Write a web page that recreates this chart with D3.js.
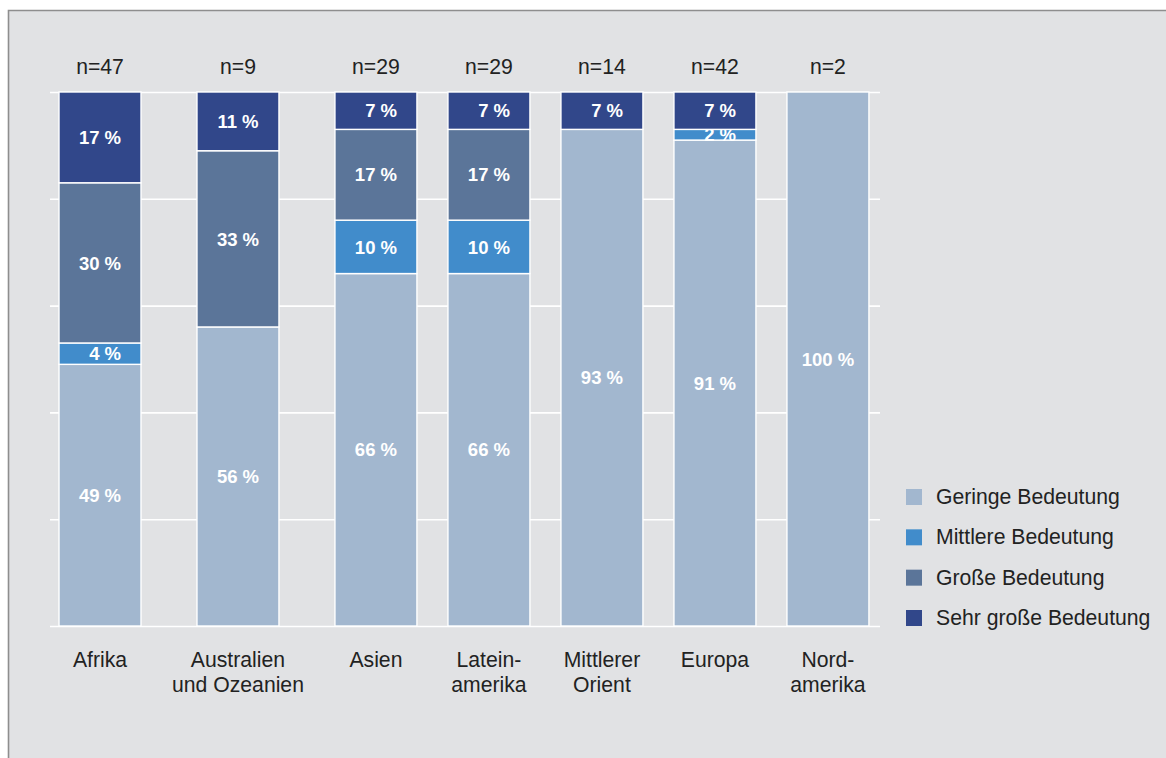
<!DOCTYPE html>
<html>
<head>
<meta charset="utf-8">
<script src="https://cdn.jsdelivr.net/npm/d3@7"></script>
<style>
  html, body { margin: 0; padding: 0; background: #ffffff; }
  svg { display: block; font-family: "Liberation Sans", Arial, Helvetica, sans-serif; }
</style>
</head>
<body>
<svg id="chart" width="1166" height="758"></svg>
<script>
// Regions, their axis label lines and sample sizes
const regions = ["Afrika", "Australien und Ozeanien", "Asien", "Lateinamerika", "Mittlerer Orient", "Europa", "Nordamerika"];
const regionLines = [["Afrika"], ["Australien", "und Ozeanien"], ["Asien"], ["Latein-", "amerika"], ["Mittlerer", "Orient"], ["Europa"], ["Nord-", "amerika"]];
const sampleSizes = [47, 9, 29, 29, 14, 42, 2];

// Importance levels (stack order bottom to top) and shares in percent
const levels = ["Geringe Bedeutung", "Mittlere Bedeutung", "Große Bedeutung", "Sehr große Bedeutung"];
const geringe   = [49, 56, 66, 66, 93, 91, 100];
const mittlere  = [4, 0, 10, 10, 0, 2, 0];
const grosse    = [30, 33, 17, 17, 0, 0, 0];
const sehrGross = [17, 11, 7, 7, 7, 7, 0];
const yTicks = [0, 20, 40, 60, 80, 100];

const series = [geringe, mittlere, grosse, sehrGross];
const rows = regions.map((r, i) => {
  const row = { region: r, n: sampleSizes[i], lines: regionLines[i] };
  levels.forEach((k, j) => { row[k] = series[j][i]; });
  return row;
});

const svg = d3.select("#chart");
const W = 1166, H = 758;
const plot = { left: 50, right: 880, top: 92, bottom: 626 };
const barW = 82, slotGap = 31, firstInset = 9;
const fontSize = 21.2;
const textColor = "#222222";

const color = d3.scaleOrdinal()
  .domain(levels)
  .range(["#a2b7cf", "#418ccb", "#5b7599", "#31478a"]);

// Panel background with a gray frame on the top and left
svg.append("rect").attr("x", 0).attr("y", 0).attr("width", W).attr("height", H).attr("fill", "#ffffff");
svg.append("rect").attr("x", 8.5).attr("y", 10.5).attr("width", W).attr("height", H)
  .attr("fill", "#e1e2e4");
svg.append("path")
  .attr("d", `M8.5,${H} V10.5 H${W}`)
  .attr("fill", "none").attr("stroke", "#8e8e8e").attr("stroke-width", 1.6);

// Each region gets a slot wide enough for its bar or its axis label
const probe = svg.append("text").attr("font-size", fontSize).attr("visibility", "hidden");
const slotWidths = rows.map(d => {
  const w = d3.max(d.lines, l => { probe.text(l); return probe.node().getComputedTextLength(); });
  return Math.max(barW, w);
});
probe.remove();
const centers = [];
slotWidths.forEach((w, i) => {
  if (i === 0) centers.push(plot.left + firstInset + w / 2);
  else centers.push(centers[i - 1] + (slotWidths[i - 1] + w) / 2 + slotGap);
});
const x = d3.scaleOrdinal().domain(regions).range(centers);

const y = d3.scaleLinear().domain([0, 100]).range([plot.bottom, plot.top]);

// Horizontal gridlines
const grid = svg.append("g")
  .attr("transform", `translate(${plot.left},0)`)
  .call(d3.axisLeft(y).tickValues(yTicks).tickSize(-(plot.right - plot.left)).tickFormat(""));
grid.select(".domain").remove();
grid.selectAll(".tick line").attr("stroke", "#ffffff").attr("stroke-width", 1.6);

// Stacked bars
const stacked = d3.stack().keys(levels)(rows);
const layer = svg.append("g").selectAll("g")
  .data(stacked)
  .join("g")
  .attr("fill", s => color(s.key));

layer.selectAll("rect")
  .data(s => s.filter(d => d[1] - d[0] > 0))
  .join("rect")
  .attr("x", d => x(d.data.region) - barW / 2)
  .attr("y", d => y(d[1]))
  .attr("width", barW)
  .attr("height", d => y(d[0]) - y(d[1]))
  .attr("stroke", "#ffffff")
  .attr("stroke-width", 1.4);

// Percentage labels inside the segments
layer.selectAll("text")
  .data(s => s.filter(d => d[1] - d[0] > 0))
  .join("text")
  .attr("x", d => x(d.data.region))
  .attr("y", d => (y(d[0]) + y(d[1])) / 2)
  .attr("dy", "0.36em")
  .attr("dx", d => (d[1] - d[0]) < 10 ? "0.278em" : 0)
  .attr("text-anchor", "middle")
  .attr("fill", "#ffffff")
  .attr("font-weight", "bold")
  .attr("font-size", 18.5)
  .text(d => `${d[1] - d[0]} %`);

// Sample sizes above the bars
svg.append("g").selectAll("text")
  .data(rows)
  .join("text")
  .attr("x", d => x(d.region))
  .attr("y", 74)
  .attr("text-anchor", "middle")
  .attr("font-size", fontSize)
  .attr("fill", textColor)
  .text(d => `n=${d.n}`);

// Region labels below the bars
const cat = svg.append("g").selectAll("text")
  .data(rows)
  .join("text")
  .attr("x", d => x(d.region))
  .attr("y", 667)
  .attr("text-anchor", "middle")
  .attr("font-size", fontSize)
  .attr("fill", textColor);
cat.selectAll("tspan")
  .data(d => d.lines.map(l => ({ l, cx: x(d.region) })))
  .join("tspan")
  .attr("x", t => t.cx)
  .attr("dy", (t, i) => i === 0 ? 0 : 24.5)
  .text(t => t.l);

// Legend
const legendY = d3.scalePoint().domain(levels).range([489, 610]);
const legend = svg.append("g").selectAll("g")
  .data(levels)
  .join("g")
  .attr("transform", k => `translate(906,${legendY(k)})`);
legend.append("rect")
  .attr("width", 16).attr("height", 16)
  .attr("fill", k => color(k));
legend.append("text")
  .attr("x", 30)
  .attr("y", 15)
  .attr("font-size", fontSize)
  .attr("fill", textColor)
  .text(k => k);
</script>
</body>
</html>
